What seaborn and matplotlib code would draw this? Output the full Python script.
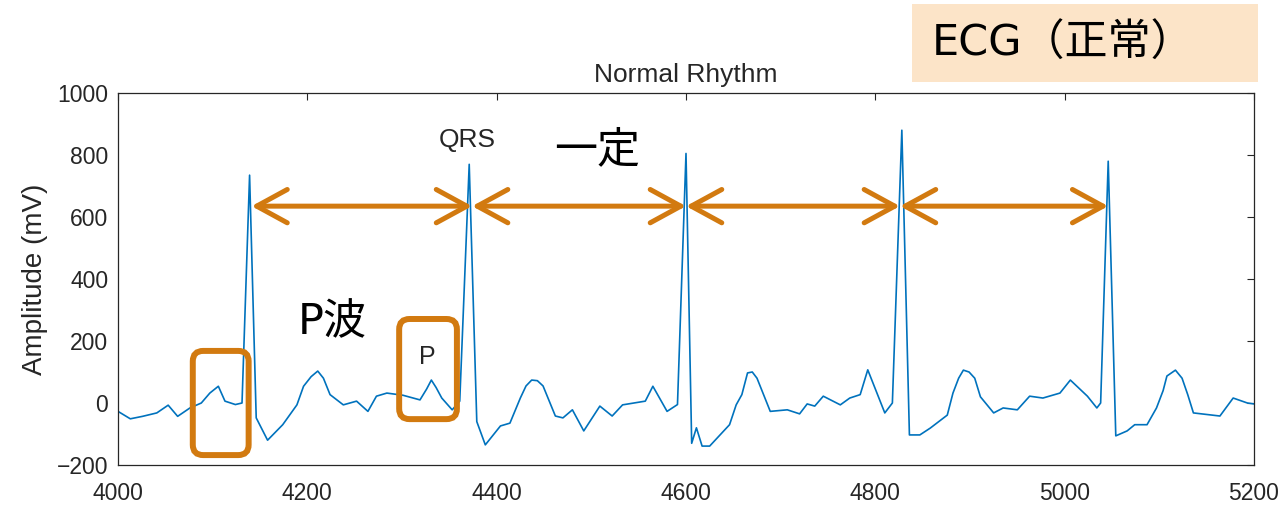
import matplotlib
matplotlib.use('Agg')
import matplotlib.pyplot as plt
import seaborn as sns
from matplotlib.patches import FancyBboxPatch, Rectangle

# ECG trace (sample index vs amplitude in mV)
sample = [4000, 4013, 4026, 4041, 4053, 4063, 4076, 4088, 4097, 4106, 4113, 4124,
          4131, 4139, 4146, 4158, 4174, 4189, 4196, 4204, 4211, 4217, 4224, 4238,
          4252, 4264, 4273, 4284, 4301, 4319, 4326, 4331, 4336, 4342, 4353, 4361,
          4371, 4379, 4388, 4404, 4414, 4425, 4431, 4437, 4443, 4449, 4462, 4470,
          4480, 4492, 4509, 4522, 4533, 4557, 4565, 4580, 4591, 4600, 4606, 4611,
          4617, 4625, 4646, 4653, 4659, 4665, 4670, 4675, 4689, 4707, 4720, 4728,
          4736, 4745, 4763, 4773, 4784, 4792, 4810, 4818, 4828, 4836, 4847, 4858,
          4876, 4882, 4888, 4893, 4899, 4905, 4911, 4925, 4935, 4950, 4963, 4977,
          4995, 5006, 5024, 5034, 5038, 5046, 5054, 5066, 5074, 5087, 5097, 5104,
          5108, 5117, 5124, 5130, 5136, 5164, 5178, 5193, 5200]
amplitude = [-27, -51, -43, -32, -7, -43, -16, 0, 32, 54, 6, -5,
             0, 735, -48, -120, -70, -6, 54, 85, 103, 80, 27, -6,
             6, -27, 22, 32, 25, 10, 45, 74, 50, 16, -22, 6,
             770, -60, -135, -74, -65, 16, 55, 74, 72, 55, -42, -48,
             -22, -90, -10, -42, -6, 6, 54, -27, -5, 805, -130, -80,
             -139, -139, -70, -6, 27, 97, 100, 80, -27, -22, -35, -3,
             -10, 22, -6, 16, 27, 107, -32, 0, 880, -103, -103, -81,
             -39, 32, 80, 106, 100, 80, 20, -32, -16, -22, 22, 16,
             32, 74, 22, -16, 0, 780, -106, -90, -70, -70, -16, 40,
             87, 106, 80, 27, -32, -42, 16, 0, -3]

# R-peak positions used for the RR interval arrows
r_peaks = [4141, 4374, 4600, 4826, 5046]
arrow_level = 635

# P wave boxes: (x0, x1, y0, y1)
p_boxes = [(4079, 4138, -168, 168), (4297, 4358, -52, 271)]

xticks = [4000, 4200, 4400, 4600, 4800, 5000, 5200]
yticks = [-200, 0, 200, 400, 600, 800, 1000]

sns.set_style('white')
plt.rcParams['font.family'] = ['Liberation Sans', 'Noto Sans CJK JP', 'DejaVu Sans']
jp_font = ['DejaVu Sans', 'Noto Sans CJK JP']

fig = plt.figure(figsize=(12.84, 5.05), dpi=100)
ax = fig.add_axes([118 / 1284, 1 - 465 / 505, 1136 / 1284, 372 / 505])

sns.lineplot(x=sample, y=amplitude, sort=False, color='#0072BD',
             linewidth=1.2, ax=ax)
for l in ax.lines:
    l.set_solid_joinstyle('round')

ax.set_xlim(4000, 5200)
ax.set_ylim(-200, 1000)
ax.set_xticks(xticks)
ax.set_yticks(yticks)
ax.tick_params(direction='in', length=5, width=0.8, colors='#262626',
               labelsize=16.5, top=True, right=True)
ax.tick_params(axis='x', pad=12)
ax.tick_params(axis='y', pad=7)
for s in ax.spines.values():
    s.set_color('#262626')
    s.set_linewidth(0.9)
ax.set_title('Normal Rhythm', fontsize=19, color='#262626', pad=8)
ax.set_ylabel('Amplitude (mV)', fontsize=20, color='#262626', labelpad=6)

orange = '#D27A10'
for a, b in zip(r_peaks[:-1], r_peaks[1:]):
    ax.annotate('', xy=(b, arrow_level), xytext=(a, arrow_level),
                arrowprops=dict(arrowstyle='<->,head_length=1.1,head_width=0.6',
                                color=orange, lw=3.6, shrinkA=0, shrinkB=0,
                                mutation_scale=20, capstyle='round',
                                joinstyle='round'))

for x0, x1, y0, y1 in p_boxes:
    box = FancyBboxPatch((x0, y0), x1 - x0, y1 - y0,
                         boxstyle='round,pad=0,rounding_size=11',
                         mutation_aspect=3.05, fill=False,
                         edgecolor=orange, linewidth=4.3, clip_on=False, zorder=5)
    ax.add_patch(box)

ax.text(4369, 848, 'QRS', fontsize=19, color='#262626', ha='center', va='center')
ax.text(4327, 150, 'P', fontsize=18, color='#262626', ha='center', va='center')
ax.text(4226, 262, 'P波', fontsize=31, color='black', ha='center', va='center',
        family=jp_font)
ax.text(4506, 815, '一定', fontsize=31, color='black', ha='center', va='center',
        family=jp_font)

# title card in the top right corner
fig.add_artist(Rectangle((912 / 1284, 1 - 82 / 505), 346 / 1284, 78 / 505,
                         transform=fig.transFigure, facecolor='#FCE4C8',
                         edgecolor='none'))
fig.text(932 / 1284, 1 - 44 / 505, 'ECG（正常）', fontsize=31, color='black',
         ha='left', va='center', family=jp_font)

fig.savefig('out.png', dpi=100)
